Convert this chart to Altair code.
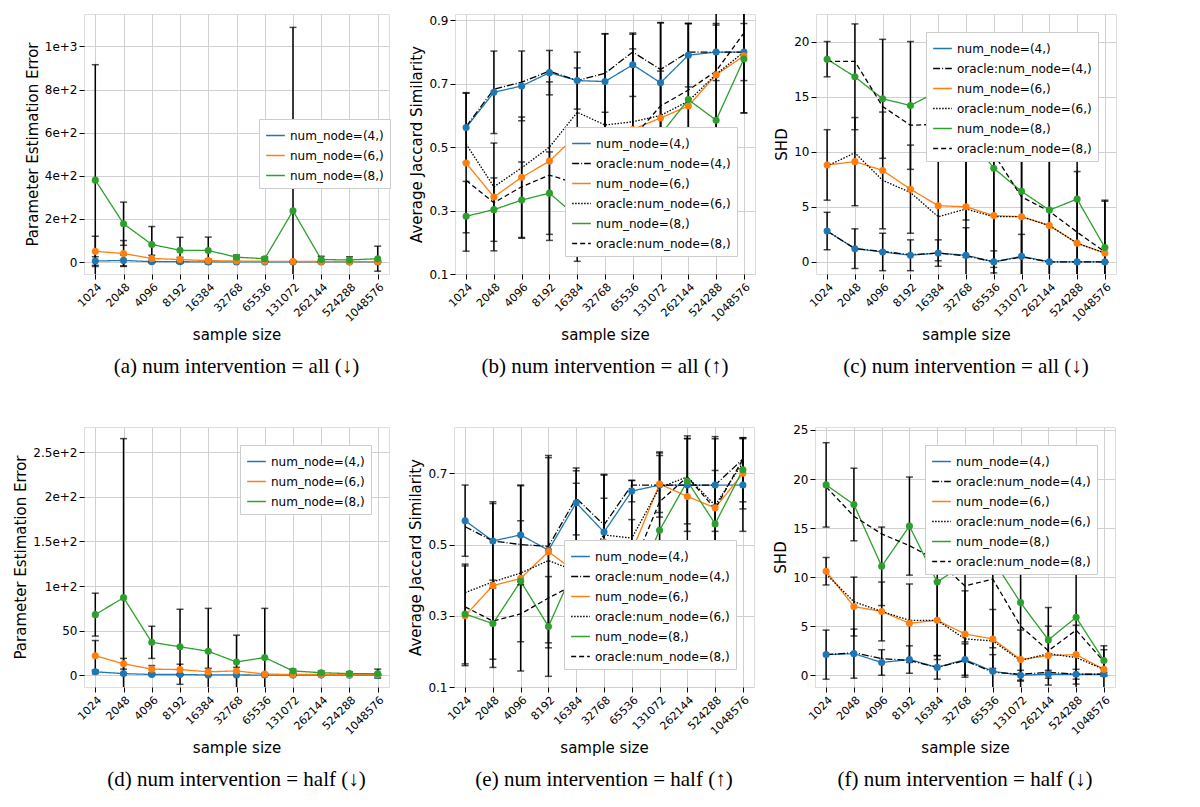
import altair as alt
import pandas as pd

sizes = ["1024","2048","4096","8192","16384","32768","65536","131072","262144","524288","1048576"]

# (a) PEE all
a_b = [5,8,2,2,1,1,1,1,1,1,1];            a_be = [20,25,5,5,3,2,2,2,2,2,2]
a_o = [50,40,17,12,7,5,4,3,3,2,3];         a_oe = [70,60,15,10,8,5,3,3,3,2,3]
a_g = [380,178,82,55,54,23,16,238,12,10,16]; a_ge = [535,100,83,60,62,10,8,850,15,15,58]
# (b) Jaccard all
b_b = [0.562,0.673,0.693,0.735,0.71,0.707,0.76,0.703,0.79,0.80,0.80]
b_b_or = [0.565,0.683,0.705,0.74,0.71,0.733,0.80,0.745,0.80,0.80,0.80]
b_o = [0.45,0.343,0.405,0.456,0.54,0.548,0.556,0.592,0.63,0.728,0.788]
b_o_or = [0.51,0.375,0.435,0.50,0.61,0.57,0.58,0.60,0.645,0.73,0.80]
b_g = [0.282,0.303,0.333,0.355,0.28,0.41,0.51,0.54,0.65,0.585,0.778]
b_g_or = [0.395,0.325,0.375,0.412,0.385,0.495,0.53,0.63,0.68,0.74,0.86]
b_be = [0.11,0.13,0.11,0.07,0.09,0.15,0.1,0.19,0.1,0.09,0.09]
b_oe = [0.22,0.17,0.19,0.25,0.21,0.31,0.3,0.3,0.26,0.25,0.18]
b_ge = [0.11,0.1,0.12,0.13,0.14,0.2,0.3,0.2,0.24,0.3,0.17]
# (c) SHD all
c_b = [2.8,1.2,0.9,0.6,0.8,0.6,0,0.5,0,0,0]
c_b_or = [2.8,1.2,0.95,0.65,0.8,0.55,0,0.45,0,0,0]
c_o = [8.8,9.1,8.3,6.6,5.1,5.0,4.2,4.1,3.3,1.7,0.8]
c_o_or = [8.7,9.9,7.4,6.3,4.1,4.8,4.1,4.1,3.3,1.7,0.8]
c_g = [18.4,16.8,14.8,14.2,15.5,11.8,8.5,6.4,4.7,5.7,1.3]
c_g_or = [18.2,18.2,14.1,12.4,12.5,10,9.8,5.9,4.6,2.7,0.9]
c_be = [1.7,1.8,1.7,1.4,1.2,2.5,1,2,0,0,0]
c_oe = [3.2,4,5.3,4,5,4.6,5.8,5.9,6,6.5,4.7]
c_ge = [1.6,4.8,5.4,5.8,4.7,8,9,8.3,7.5,9,4.3]
# (d) PEE half
d_b = [4,2,1,1,0.5,0.5,0.3,0.3,0.3,0.2,0.2]; d_be = [2,1,1,1,0.5,0.5,0.5,0.5,0.3,0.3,0.3]
d_o = [22,13,7,6.5,4,5,1.5,1,1,0.8,1];       d_oe = [17,6,4,6,4,4,1,1,1,1,1]
d_g = [68,87,37,32,27,15,20,5,3,2,2];        d_ge = [24,178,18,42,48,30,55,2,2,2,5]
# (e) Jaccard half
e_b = [0.567,0.51,0.527,0.484,0.617,0.535,0.65,0.667,0.667,0.667,0.667]
e_b_or = [0.55,0.51,0.50,0.495,0.63,0.555,0.667,0.667,0.667,0.667,0.74]
e_o = [0.30,0.385,0.405,0.48,0.422,0.507,0.48,0.67,0.635,0.603,0.70]
e_o_or = [0.365,0.395,0.42,0.455,0.425,0.527,0.518,0.66,0.69,0.61,0.73]
e_g = [0.305,0.278,0.397,0.27,0.445,0.40,0.36,0.54,0.678,0.558,0.71]
e_g_or = [0.325,0.285,0.305,0.35,0.39,0.475,0.43,0.62,0.69,0.60,0.74]
e_be = [0.1,0.11,0.14,0.26,0.09,0.16,0.03,0.09,0.13,0.13,0.13]
e_oe = [0.14,0.23,0.26,0.27,0.25,0.19,0.20,0.08,0.17,0.2,0.1]
e_ge = [0.14,0.1,0.17,0.14,0.27,0.23,0.21,0.22,0.12,0.15,0.09]
# (f) SHD half
f_b = [2.1,2.2,1.3,1.6,0.8,1.6,0.4,0,0.1,0.1,0.1]
f_b_or = [2.1,2.3,1.7,1.5,0.8,1.5,0.3,0.1,0.3,0.1,0.1]
f_o = [10.6,7.0,6.5,5.3,5.6,4.2,3.7,1.6,2.0,2.1,0.6]
f_o_or = [10.3,7.5,6.5,5.6,5.6,3.7,3.5,1.5,2.2,1.8,0.6]
f_g = [19.4,17.4,11.1,15.2,9.5,11.4,11.8,7.4,3.6,5.9,1.5]
f_g_or = [19.2,16.2,14.4,13.2,11.7,9.1,9.8,5.0,2.5,4.6,1.4]
f_be = [2.5,2.5,1.3,1.4,1.2,1.6,1.7,0.5,0.4,0.5,0.2]
f_oe = [1.4,3,3,4,4,4.4,3,3,3,3,2]
f_ge = [4.3,3.7,4,5,7.5,8,9,8,3.3,8,1.5]

N4, N6, N8 = "num_node=(4,)", "num_node=(6,)", "num_node=(8,)"
O4, O6, O8 = "oracle:num_node=(4,)", "oracle:num_node=(6,)", "oracle:num_node=(8,)"
BLUE, ORANGE, GREEN = "#1f77b4", "#ff7f0e", "#2ca02c"

def panel(series, oracles, ylabel, ydomain, ticks, caption, legend_orient, lx=None, ly=None, h=260, w=305):
    rows = []
    for name, vals, errs in series:
        for s, v, e in zip(sizes, vals, errs):
            rows.append(dict(x=s, y=v, lo=v - e, hi=v + e, series=name, kind="m"))
    for name, vals in oracles:
        for s, v in zip(sizes, vals):
            rows.append(dict(x=s, y=v, lo=v, hi=v, series=name, kind="o"))
    df = pd.DataFrame(rows)
    if oracles:
        dom = [N4, O4, N6, O6, N8, O8]
        cols = [BLUE, "black", ORANGE, "black", GREEN, "black"]
        dashes = [[1, 0], [7, 2, 1, 2], [1, 0], [1.5, 1.5], [1, 0], [5, 3]]
    else:
        dom = [N4, N6, N8]; cols = [BLUE, ORANGE, GREEN]; dashes = [[1, 0]] * 3
    lg = dict(title=None, orient=legend_orient, labelFontSize=12, symbolSize=350,
              symbolStrokeWidth=1.5, fillColor="white", strokeColor="#cccccc",
              padding=6, labelFont="DejaVu Sans", labelColor="black", rowPadding=3,
              symbolType="stroke", labelLimit=300)
    if legend_orient == "none":
        lg.update(legendX=lx, legendY=ly)
    xenc = alt.X("x:N", sort=sizes, scale=alt.Scale(type="point", padding=0.4),
                 axis=alt.Axis(title="sample size", labelAngle=-45,
                               labelFontSize=11, titleFontSize=15, titleFontWeight="normal",
                               grid=True, gridColor="#d0d0d0", labelColor="black",
                               titleColor="black", domain=False, tickColor="black",
                               titleFont="DejaVu Sans", labelFont="DejaVu Sans", labelOverlap=False))
    yenc = alt.Y("y:Q", scale=alt.Scale(domain=ydomain, nice=False, zero=False),
                 axis=alt.Axis(title=ylabel, values=ticks, labelFontSize=12, titleFontSize=15,
                               titleFontWeight="normal", grid=True, gridColor="#d0d0d0",
                               labelColor="black", titleColor="black", domain=False,
                               tickColor="black", titleFont="DejaVu Sans", labelFont="DejaVu Sans",
                               labelOverlap=False, format="~g"))
    color = alt.Color("series:N", scale=alt.Scale(domain=dom, range=cols), legend=alt.Legend(**lg))
    dash = alt.StrokeDash("series:N", scale=alt.Scale(domain=dom, range=dashes), legend=alt.Legend(**lg))
    lines = alt.Chart(df).mark_line(strokeWidth=1.3, clip=True).encode(x=xenc, y=yenc, color=color, strokeDash=dash)
    mdf = df[df.kind == "m"]
    err = alt.Chart(mdf).mark_errorbar(ticks={"size": 7}, color="black", thickness=1.5, clip=True).encode(
        x=alt.X("x:N", sort=sizes), y=alt.Y("lo:Q", title=ylabel), y2="hi:Q")
    pts = alt.Chart(mdf).mark_point(filled=True, size=50, opacity=1, clip=True).encode(
        x=alt.X("x:N", sort=sizes), y="y:Q",
        color=alt.Color("series:N", scale=alt.Scale(domain=dom, range=cols), legend=None))
    return alt.layer(lines, err, pts).properties(
        width=w, height=h,
        title=alt.TitleParams(caption, orient="bottom", font="Liberation Serif", fontSize=21,
                              fontWeight="normal", color="black", offset=14))

pa = panel([(N4, a_b, a_be), (N6, a_o, a_oe), (N8, a_g, a_ge)], [], "Parameter Estimation Error",
           [-55, 1150], [0, 200, 400, 600, 800, 1000], "(a) num intervention = all (↓)", "none", 175, 105)
pb = panel([(N4, b_b, b_be), (N6, b_o, b_oe), (N8, b_g, b_ge)], [(O4, b_b_or), (O6, b_o_or), (O8, b_g_or)],
           "Average Jaccard Similarity", [0.1, 0.92], [0.1,0.2,0.3,0.4,0.5,0.6,0.7,0.8,0.9],
           "(b) num intervention = all (↑)", "bottom-right", w=300)
pc = panel([(N4, c_b, c_be), (N6, c_o, c_oe), (N8, c_g, c_ge)], [(O4, c_b_or), (O6, c_o_or), (O8, c_g_or)],
           "SHD", [-1.1, 22.5], [0, 5, 10, 15, 20], "(c) num intervention = all (↓)", "top-right", w=300)
pd_ = panel([(N4, d_b, d_be), (N6, d_o, d_oe), (N8, d_g, d_ge)], [], "Parameter Estimation Error",
            [-13, 278], [0, 50, 100, 150, 200, 250], "(d) num intervention = half (↓)", "top-right")
pe = panel([(N4, e_b, e_be), (N6, e_o, e_oe), (N8, e_g, e_ge)], [(O4, e_b_or), (O6, e_o_or), (O8, e_g_or)],
           "Average Jaccard Similarity", [0.1, 0.83], [0.1,0.2,0.3,0.4,0.5,0.6,0.7,0.8],
           "(e) num intervention = half (↑)", "bottom-right", w=300)
pf = panel([(N4, f_b, f_be), (N6, f_o, f_oe), (N8, f_g, f_ge)], [(O4, f_b_or), (O6, f_o_or), (O8, f_g_or)],
           "SHD", [-1.2, 25.3], [0, 5, 10, 15, 20, 25], "(f) num intervention = half (↓)", "top-right", w=300)

row1 = alt.hconcat(pa, pb, pc, spacing=18).resolve_scale(color="independent", strokeDash="independent")
row2 = alt.hconcat(pd_, pe, pf, spacing=18).resolve_scale(color="independent", strokeDash="independent")
chart = alt.vconcat(row1, row2, spacing=45).resolve_scale(
    color="independent", strokeDash="independent").configure_view(
    stroke="black", strokeWidth=1).configure(background="white")

chart.save("out.html", embed_options={"renderer": "svg", "actions": False})
